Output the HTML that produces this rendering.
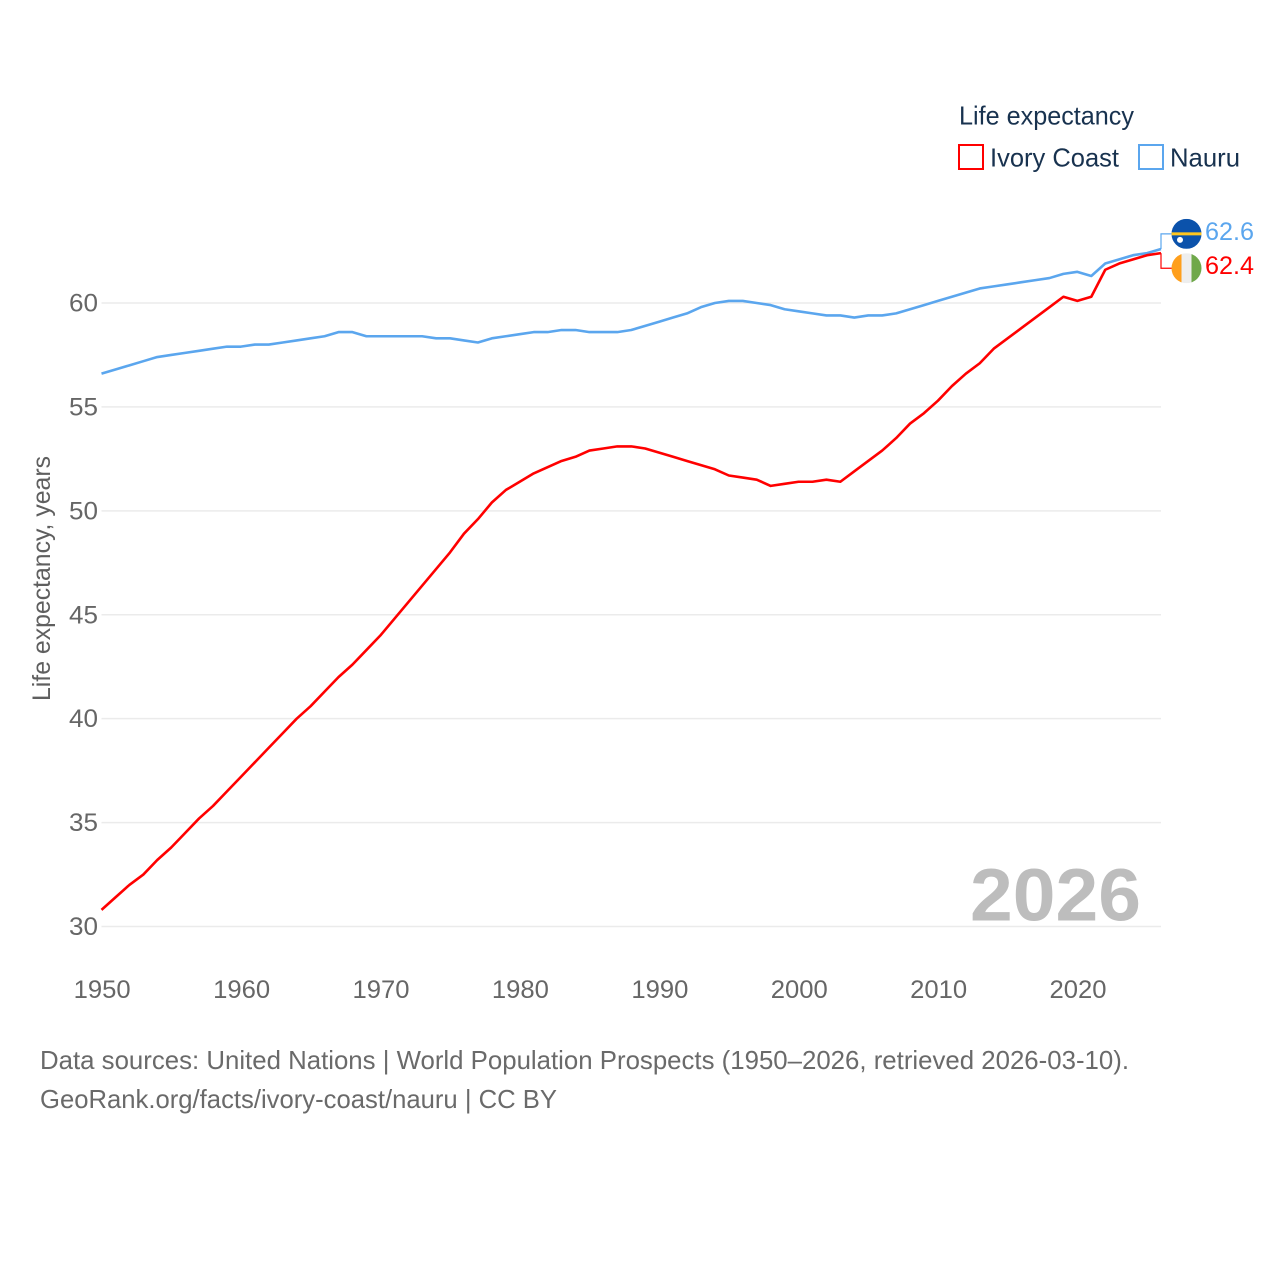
<!DOCTYPE html>
<html lang="en">
<head>
<meta charset="utf-8">
<title>Life expectancy: Ivory Coast and Nauru</title>
<style>
html,body{margin:0;padding:0;background:#fff;width:1280px;height:1280px;overflow:hidden}
svg{display:block;font-family:"Liberation Sans",Arial,sans-serif}
</style>
</head>
<body>
<svg id="chart" xmlns="http://www.w3.org/2000/svg" width="1280" height="1280" viewBox="0 0 1280 1280">
  <rect width="1280" height="1280" fill="#fff"/>
  <g id="grid"></g>
  <g id="yticks"></g>
  <g id="xticks"></g>
  <text transform="translate(50,701) rotate(-90)" font-size="25" fill="#5f5f5f" textLength="245" lengthAdjust="spacingAndGlyphs">Life expectancy, years</text>

  <g>
    <text x="959" y="124.5" font-size="26" fill="#18324f" textLength="175" lengthAdjust="spacingAndGlyphs">Life expectancy</text>
    <rect x="959" y="145" width="24" height="24" fill="#fff" stroke="#ff0000" stroke-width="2"/>
    <text x="990" y="166.5" font-size="26" fill="#18324f" textLength="129" lengthAdjust="spacingAndGlyphs">Ivory Coast</text>
    <rect x="1139" y="145" width="24" height="24" fill="#fff" stroke="#5ba6ee" stroke-width="2"/>
    <text x="1170" y="166.5" font-size="26" fill="#18324f" textLength="70" lengthAdjust="spacingAndGlyphs">Nauru</text>
  </g>

  <text x="970" y="920.5" font-size="74" font-weight="700" fill="#bdbdbd" textLength="171" lengthAdjust="spacingAndGlyphs">2026</text>

  <g id="series"></g>

  <defs>
    <clipPath id="flag-clip"><circle cx="0" cy="0" r="15"/></clipPath>
  </defs>
  <g id="flag-nauru" clip-path="url(#flag-clip)">
    <rect x="-15" y="-15" width="30" height="30" fill="#0b52ab"/>
    <rect x="-15" y="-1.5" width="30" height="3" fill="#ffc61e"/>
    <circle cx="-6.5" cy="6" r="3" fill="#fff"/>
  </g>
  <g id="flag-ivory-coast" clip-path="url(#flag-clip)">
    <rect x="-15" y="-15" width="10" height="30" fill="#ff9f1c"/>
    <rect x="-5" y="-15" width="10" height="30" fill="#eeeeee"/>
    <rect x="5" y="-15" width="10" height="30" fill="#6fa84a"/>
  </g>

  <g>
    <text x="40" y="1069" font-size="26" fill="#6a6a6a" textLength="1089" lengthAdjust="spacingAndGlyphs">Data sources: United Nations | World Population Prospects (1950–2026, retrieved 2026-03-10).</text>
    <text x="40" y="1108" font-size="26" fill="#6a6a6a" textLength="517" lengthAdjust="spacingAndGlyphs">GeoRank.org/facts/ivory-coast/nauru | CC BY</text>
  </g>
</svg>
<script>
const firstYear = 1950;
const lastYear = 2026;
const xTickLabels = [1950, 1960, 1970, 1980, 1990, 2000, 2010, 2020];
const yTickLabels = [30, 35, 40, 45, 50, 55, 60];
const ivoryCoast = [
  30.8, 31.4, 32.0, 32.5, 33.2, 33.8, 34.5, 35.2, 35.8, 36.5,
  37.2, 37.9, 38.6, 39.3, 40.0, 40.6, 41.3, 42.0, 42.6, 43.3,
  44.0, 44.8, 45.6, 46.4, 47.2, 48.0, 48.9, 49.6, 50.4, 51.0,
  51.4, 51.8, 52.1, 52.4, 52.6, 52.9, 53.0, 53.1, 53.1, 53.0,
  52.8, 52.6, 52.4, 52.2, 52.0, 51.7, 51.6, 51.5, 51.2, 51.3,
  51.4, 51.4, 51.5, 51.4, 51.9, 52.4, 52.9, 53.5, 54.2, 54.7,
  55.3, 56.0, 56.6, 57.1, 57.8, 58.3, 58.8, 59.3, 59.8, 60.3,
  60.1, 60.3, 61.6, 61.9, 62.1, 62.3, 62.4
];
const nauru = [
  56.6, 56.8, 57.0, 57.2, 57.4, 57.5, 57.6, 57.7, 57.8, 57.9,
  57.9, 58.0, 58.0, 58.1, 58.2, 58.3, 58.4, 58.6, 58.6, 58.4,
  58.4, 58.4, 58.4, 58.4, 58.3, 58.3, 58.2, 58.1, 58.3, 58.4,
  58.5, 58.6, 58.6, 58.7, 58.7, 58.6, 58.6, 58.6, 58.7, 58.9,
  59.1, 59.3, 59.5, 59.8, 60.0, 60.1, 60.1, 60.0, 59.9, 59.7,
  59.6, 59.5, 59.4, 59.4, 59.3, 59.4, 59.4, 59.5, 59.7, 59.9,
  60.1, 60.3, 60.5, 60.7, 60.8, 60.9, 61.0, 61.1, 61.2, 61.4,
  61.5, 61.3, 61.9, 62.1, 62.3, 62.4, 62.6
];

const NS = 'http://www.w3.org/2000/svg';
const x = year => 101.5 + (year - firstYear) * (1161 - 101.5) / (lastYear - firstYear);
const y = value => 926.5 - (value - 30) * (926.5 - 303) / 30;

function make(tag, parent, attrs, text) {
  const el = document.createElementNS(NS, tag);
  for (const k in attrs) el.setAttribute(k, attrs[k]);
  if (text !== undefined) el.textContent = text;
  parent.appendChild(el);
  return el;
}

const gridG = document.getElementById('grid');
const yG = document.getElementById('yticks');
const xG = document.getElementById('xticks');
const seriesG = document.getElementById('series');
const chart = document.getElementById('chart');

yTickLabels.forEach(v => {
  const line = make('line', gridG, {x1: 101.5, x2: 1161, y1: y(v), y2: y(v), stroke: '#ebebeb', 'stroke-width': 1.5});
  
  
  const label = make('text', yG, {x: 98, y: y(v) + 8.5, 'text-anchor': 'end', 'font-size': 25, fill: '#666666', textLength: 29, lengthAdjust: 'spacingAndGlyphs'}, String(v));
  
  
});

xTickLabels.forEach(v => {
  const label = make('text', xG, {x: x(v) + 0.7, y: 998, 'text-anchor': 'middle', 'font-size': 25, fill: '#666666', textLength: 57, lengthAdjust: 'spacingAndGlyphs'}, String(v));
  
  
});

function pathFor(values) {
  return values.map((v, i) => (i ? 'L' : 'M') + x(firstYear + i).toFixed(2) + ' ' + y(v).toFixed(2)).join(' ');
}

const nauruLine = make('path', seriesG, {d: pathFor(nauru), fill: 'none', stroke: '#5ba6ee', 'stroke-width': 2.6, 'stroke-linejoin': 'round'});



const ivoryLine = make('path', seriesG, {d: pathFor(ivoryCoast), fill: 'none', stroke: '#ff0000', 'stroke-width': 2.6, 'stroke-linejoin': 'round'});



const nauruEnd = nauru[nauru.length - 1];
const ivoryEnd = ivoryCoast[ivoryCoast.length - 1];
const endMid = (y(nauruEnd) + y(ivoryEnd)) / 2;
const nauruOnTop = nauruEnd >= ivoryEnd;
const nauruLabelY = endMid + (nauruOnTop ? -17.2 : 17.2);
const ivoryLabelY = endMid + (nauruOnTop ? 17.2 : -17.2);
const endX = x(lastYear);

const nauruLeader = make('path', seriesG, {d: 'M' + endX + ' ' + y(nauruEnd) + ' V' + nauruLabelY + ' H1172', fill: 'none', stroke: '#5ba6ee', 'stroke-width': 1.2});



const ivoryLeader = make('path', seriesG, {d: 'M' + endX + ' ' + y(ivoryEnd) + ' V' + ivoryLabelY + ' H1172', fill: 'none', stroke: '#ff0000', 'stroke-width': 1.2});



document.getElementById('flag-nauru').setAttribute('transform', 'translate(1186.5,' + nauruLabelY + ')');
document.getElementById('flag-ivory-coast').setAttribute('transform', 'translate(1186.5,' + ivoryLabelY + ')');

const nauruValue = make('text', chart, {x: 1205, y: nauruLabelY + 6, 'font-size': 25, fill: '#5ba6ee', textLength: 49, lengthAdjust: 'spacingAndGlyphs'}, nauruEnd.toFixed(1));



const ivoryValue = make('text', chart, {x: 1205, y: ivoryLabelY + 6, 'font-size': 25, fill: '#ff0000', textLength: 49, lengthAdjust: 'spacingAndGlyphs'}, ivoryEnd.toFixed(1));


</script>
</body>
</html>
